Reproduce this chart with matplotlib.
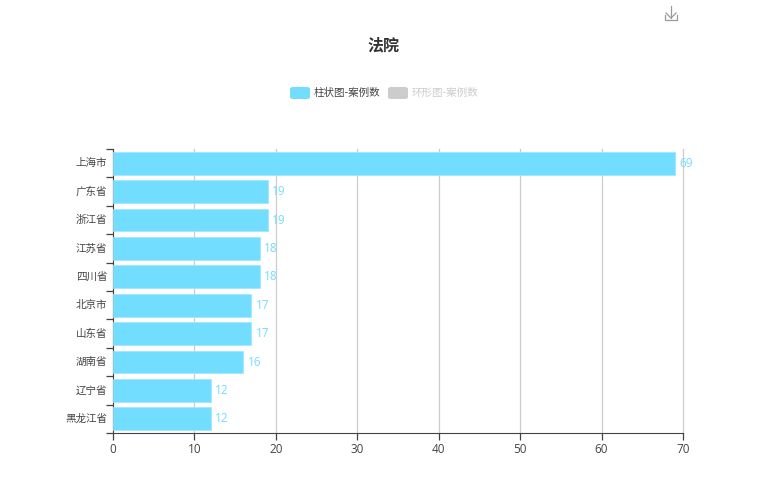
import matplotlib
matplotlib.use('Agg')
import matplotlib.pyplot as plt
from matplotlib.lines import Line2D
from matplotlib.patches import FancyBboxPatch

plt.rcParams['font.family'] = ['Noto Sans CJK SC', 'DejaVu Sans']

provinces = ['上海市', '广东省', '浙江省', '江苏省', '四川省', '北京市', '山东省', '湖南省', '辽宁省', '黑龙江省']
case_counts = [69, 19, 19, 18, 18, 17, 17, 16, 12, 12]
x_ticks = [0, 10, 20, 30, 40, 50, 60, 70]

BAR = '#72ddff'
NUM_FONT = ['Open Sans', 'DejaVu Sans']
W, H = 766, 500

fig = plt.figure(figsize=(W / 100, H / 100), dpi=100)
ax = fig.add_axes([113 / W, 1 - 433 / H, 570 / W, 284 / H])

# pixel helpers for the bits outside the axes
def px(x, y):
    return x / W, 1 - y / H

ax.barh(range(len(provinces)), case_counts, height=0.8, color=BAR, edgecolor='#9be7ff', linewidth=0.5, zorder=3)
for i, v in enumerate(case_counts):
    ax.text(v + 0.55, i, str(v), color=BAR, fontsize=8.5, va='center', ha='left', zorder=4, family=NUM_FONT)

ax.set_xlim(0, 70)
ax.set_ylim(len(provinces) - 0.5, -0.5)
ax.set_xticks(x_ticks)
ax.set_xticklabels([str(t) for t in x_ticks], family=NUM_FONT)
ax.set_yticks([i - 0.5 for i in range(len(provinces) + 1)], minor=False)
ax.set_yticklabels([])
ax.tick_params(axis='y', length=5, width=0.9, color='#444444', direction='out')
ax.tick_params(axis='x', length=5, width=0.9, color='#444444', labelcolor='#444444', labelsize=8.5, pad=2)
for i, name in enumerate(provinces):
    ax.text(-0.7, i, name, ha='right', va='center', fontsize=7.6, color='#444444')

ax.grid(axis='x', color='#cccccc', lw=0.9, zorder=0)
for line in ax.get_xgridlines():
    line.set_clip_on(False)
ax.spines['top'].set_visible(False)
ax.spines['right'].set_visible(False)
ax.spines['left'].set_color('#444444')
ax.spines['bottom'].set_color('#444444')

fig.text(*px(383, 45), '法院', ha='center', va='center', fontsize=11.5, fontweight='bold', color='#333333')

# legend
for x0, col in [(290, BAR), (388, '#cccccc')]:
    x, y = px(x0, 99)
    fig.add_artist(FancyBboxPatch((x, y), 20 / W, 12 / H, boxstyle='round,pad=0,rounding_size=0.004',
                                  transform=fig.transFigure, facecolor=col, edgecolor='none'))
fig.text(*px(314, 92.5), '柱状图-案例数', ha='left', va='center', fontsize=7.6, color='#444444')
fig.text(*px(412, 92.5), '环形图-案例数', ha='left', va='center', fontsize=7.6, color='#cccccc')

# download icon
icon = [([671, 671], [6, 18]), ([666, 671, 676], [13, 18, 13]), ([665, 665, 677, 677], [15, 19.5, 19.5, 15])]
for xs, ys in icon:
    pts = [px(a, b) for a, b in zip(xs, ys)]
    fig.add_artist(Line2D([p[0] for p in pts], [p[1] for p in pts], transform=fig.transFigure,
                          color='#999999', lw=0.9))

fig.savefig('out.png', dpi=100)
